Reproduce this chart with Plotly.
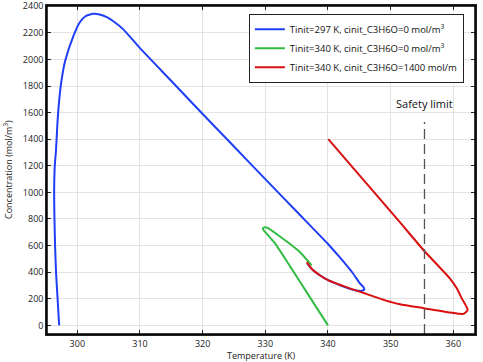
import plotly.graph_objects as go

# Blue: Tinit=297 K, cinit=0
T_blue = [297.1, 296.85, 296.6, 296.45, 296.35, 296.3, 296.4, 296.6, 296.8, 297.1, 297.5, 298.05,
          299.4, 300.4, 301.3, 302.55, 303.7, 304.7, 305.8, 307.3, 308.6, 310.0, 315.0, 320.0,
          325.0, 330.0, 335.0, 340.0, 342.0, 344.0, 345.1, 345.7, 345.8, 345.4, 344.5, 343.0,
          341.5, 340.0, 338.7, 337.5, 336.7]
C_blue = [0, 200, 400, 600, 800, 1000, 1200, 1319, 1500, 1691, 1850, 1989,
          2180, 2280, 2325, 2343, 2336, 2318, 2285, 2228, 2160, 2085, 1838, 1590,
          1345, 1100, 856, 612, 505, 390, 315, 285, 270, 260, 262, 282,
          310, 340, 377, 420, 465]

# Green: Tinit=340 K, cinit=0
T_green = [340.0, 337.0, 334.0, 331.5, 330.2, 329.6, 329.8, 330.5, 332.0, 334.0, 335.55, 337.4]
C_green = [0, 220, 440, 620, 690, 725, 737, 730, 680, 610, 550, 451]

# Red: Tinit=340 K, cinit=1400
T_red = [340.05, 345.0, 351.5, 355.3, 359.47, 360.6, 361.34, 362.3, 361.6, 359.47, 355.3, 351.5,
         349.0, 347.5, 345.6, 343.5, 341.9, 340.0, 338.7, 337.5, 336.6]
C_red = [1401, 1130, 774, 563, 352, 275, 203, 116, 86, 96.5, 129, 158,
         190, 214, 245, 278, 305, 340, 377, 420, 476]

safety_T = 355.4

series = [
    ("Tinit=297 K, cinit_C3H6O=0 mol/m<sup>3</sup>", T_blue, C_blue, "#1f3ff5"),
    ("Tinit=340 K, cinit_C3H6O=0 mol/m<sup>3</sup>", T_green, C_green, "#33bb44"),
    ("Tinit=340 K, cinit_C3H6O=1400 mol/m", T_red, C_red, "#d81010"),
]

fig = go.Figure()
for name, x, y, c in series:
    fig.add_trace(go.Scatter(x=x, y=y, mode="lines", name=name,
                             line=dict(color=c, width=2, shape="spline", smoothing=0.5)))

fig.add_shape(type="line", xref="x", yref="y", x0=safety_T, x1=safety_T, y0=-65, y1=1530,
              line=dict(color="#555555", width=1.3, dash="10px,5px"))
fig.add_annotation(x=safety_T, y=1600, xref="x", yref="y", text="Safety limit", showarrow=False,
                   font=dict(size=11, color="#111111", family="Open Sans"), yanchor="bottom")
# plot frame
fig.add_shape(type="rect", xref="paper", yref="paper", x0=0, x1=1, y0=0, y1=1,
              line=dict(color="#000000", width=1.5), fillcolor="rgba(0,0,0,0)", layer="above")

axis_common = dict(showline=True, linecolor="#222222", linewidth=1.5, mirror="allticks",
                   ticks="inside", ticklen=4, tickcolor="#222222", tickwidth=1, showgrid=True,
                   gridcolor="#e3e3e3", gridwidth=1, zeroline=False, automargin=False,
                   ticklabeloverflow="allow",
                   tickfont=dict(size=9, color="#222222", family="Open Sans"))

fig.update_xaxes(range=[295.16, 363.46], tickvals=[300, 310, 320, 330, 340, 350, 360], **axis_common)
fig.update_yaxes(range=[-65, 2402], tickvals=list(range(0, 2401, 200)), **axis_common)

title_font = dict(size=9, family="Open Sans", color="#222222")
fig.add_annotation(x=0.5, y=0.0, xref="paper", yref="paper", yshift=-21, text="Temperature (K)",
                   showarrow=False, font=title_font, yanchor="middle")
fig.add_annotation(x=0, y=0.5, xref="paper", yref="paper", xshift=-39,
                   text="Concentration (mol/m<sup>3</sup>)", textangle=-90,
                   showarrow=False, font=title_font, xanchor="center")

fig.update_layout(
    width=483, height=362,
    margin=dict(l=47, r=8, t=6, b=28, autoexpand=False),
    plot_bgcolor="white", paper_bgcolor="white",
    showlegend=True,
    legend=dict(x=0.974, y=0.976, xanchor="right", yanchor="top",
                bgcolor="white", bordercolor="#222222", borderwidth=1,
                font=dict(size=9.5, family="Open Sans", color="#111111"),
                tracegroupgap=0, itemwidth=30),
)

fig.write_html("out.html", config={"displayModeBar": False},
               post_script="document.body.style.margin='0px';document.body.style.overflow='hidden';")
